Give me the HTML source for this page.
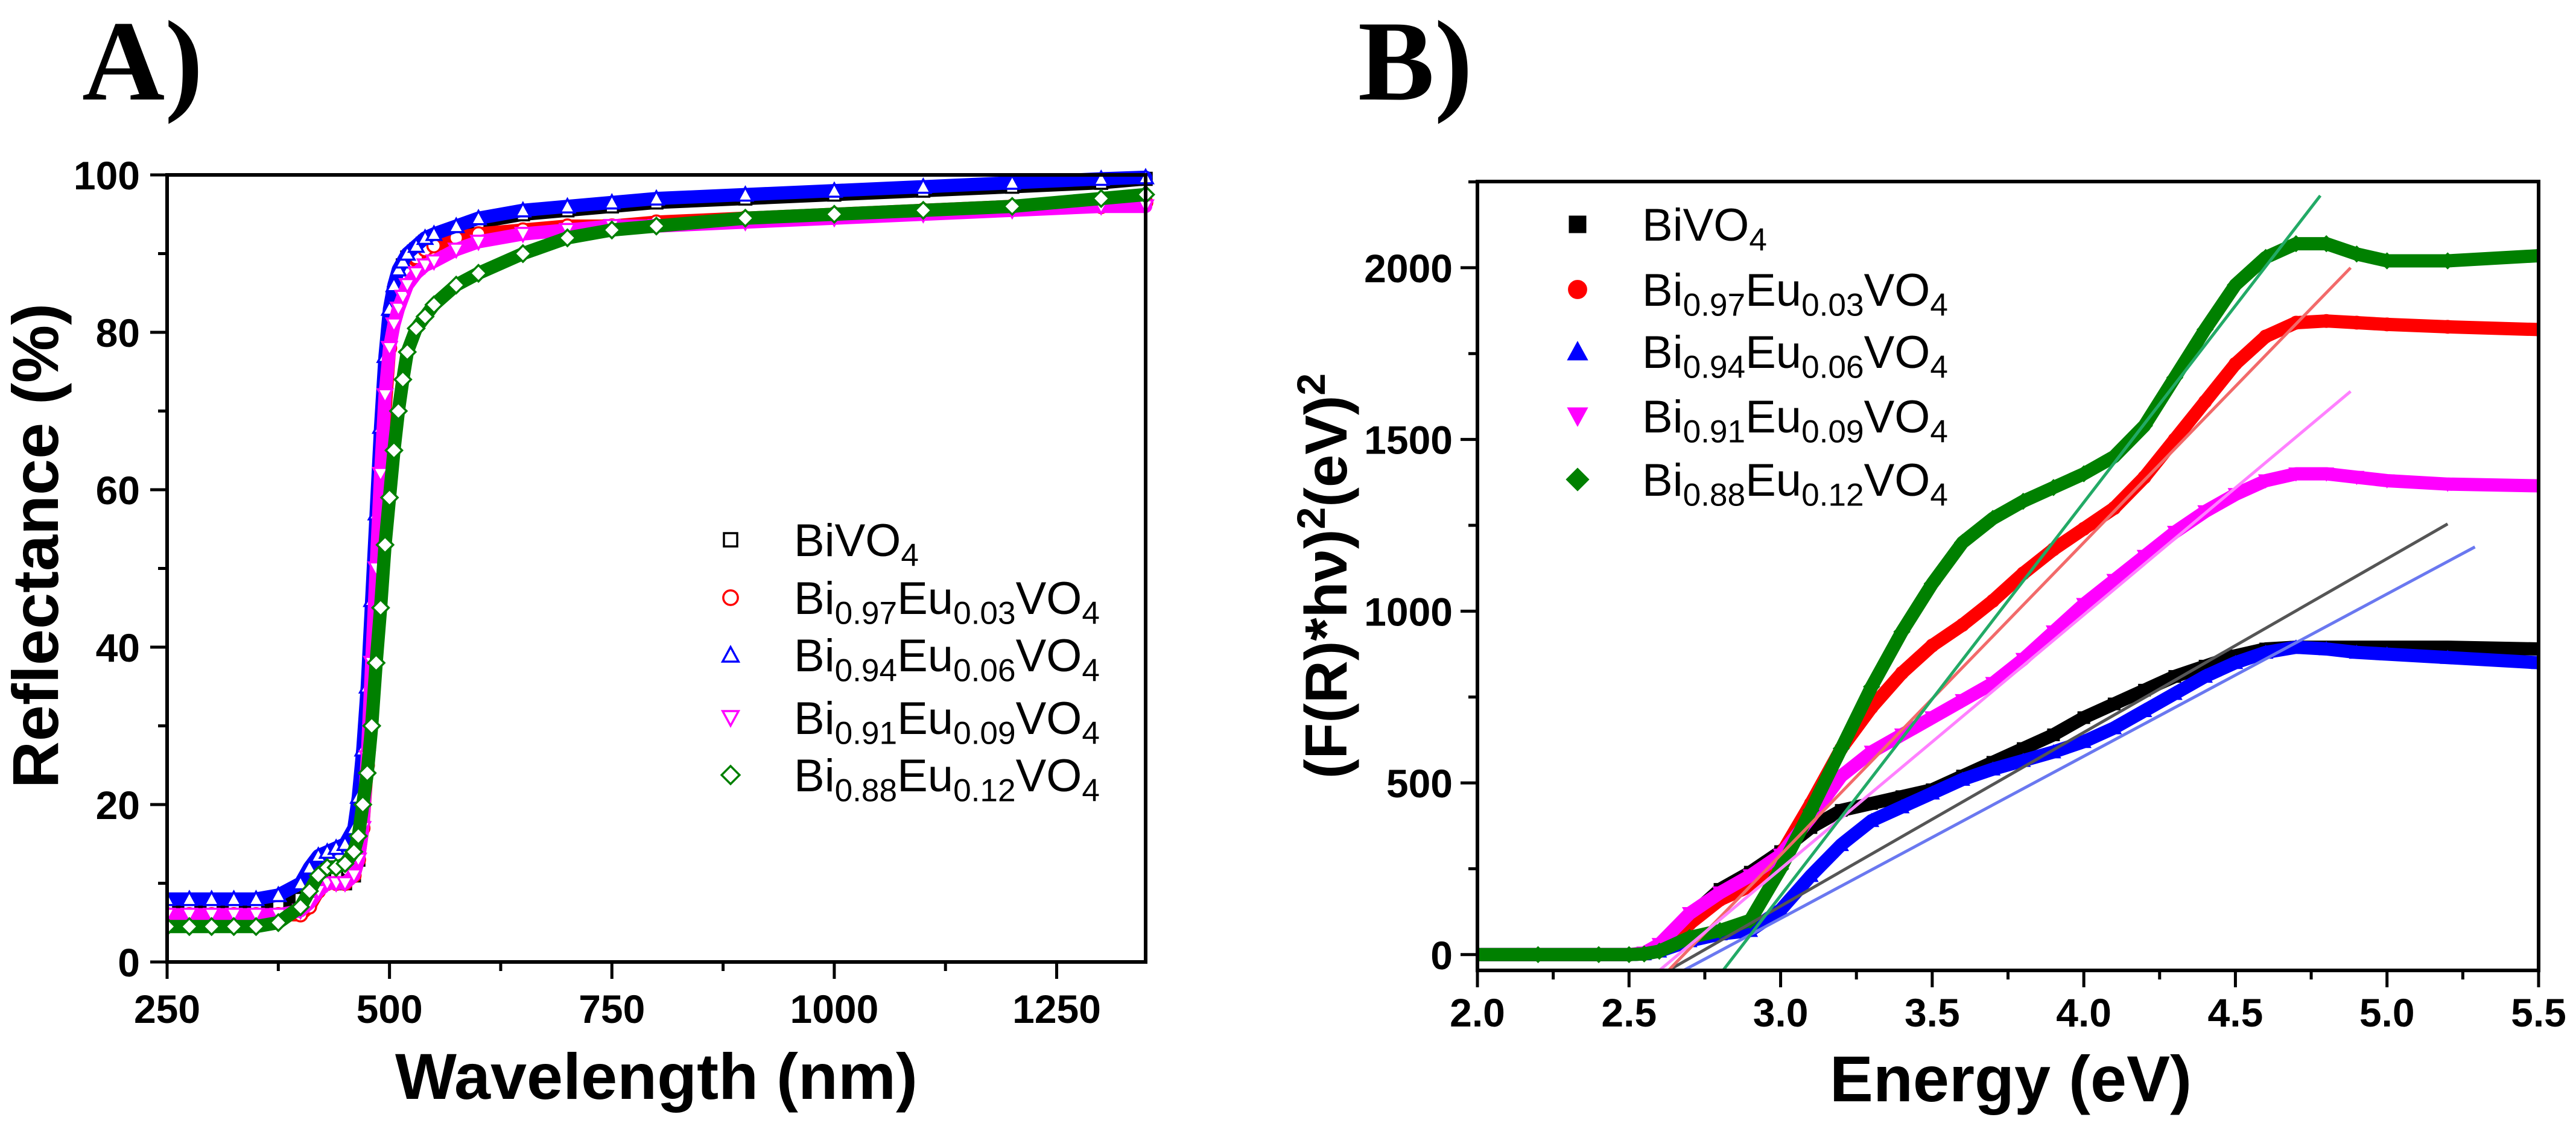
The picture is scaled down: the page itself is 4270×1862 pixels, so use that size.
<!DOCTYPE html>
<html><head><meta charset="utf-8"><style>
html,body{margin:0;padding:0;background:#fff;}
svg{display:block;}
text{font-family:"Liberation Sans",sans-serif;}
</style></head><body>
<svg id="fig" width="4270" height="1862" viewBox="0 0 4270 1862" xmlns="http://www.w3.org/2000/svg">
<text x="136" y="165" style="font-family:'Liberation Serif',serif;font-weight:bold;font-size:190px">A)</text>
<text x="2251" y="165" style="font-family:'Liberation Serif',serif;font-weight:bold;font-size:190px">B)</text>
<g id="pa"></g>
<g id="pb"></g>
</svg>
<script>
// ---- Panel A data ----
const wlA = [250,275,300,325,350,375,400,410,420,430,440,450,460,465,470,475,480,485,490,495,500,505,510,515,520,530,540,550,575,600,650,700,750,800,900,1000,1100,1200,1300,1350];
const reflBiVO4 = [7,7,7,7,7,7.5,8,9,11,12,11,10,11,13,18,28,40,52,64,74,81,85,87,88.5,89.5,90.5,91.5,92,93,94,95,95.5,96,96.5,97,97.5,98,98.5,99,99.5];
const refl003 = [6,6,6,6,6,6,6,7,9,10,10,10,11,13,17,25,36,48,60,70,78,82,85,87,88,89.5,90.5,91,92,92.5,93,93.5,93.5,94,94.5,95,95.5,96,96,96.5];
const refl006 = [8,8,8,8,8,8.5,10,12,13.5,14,14.5,15,17,21,27,35,46,57,68,77,83,86,88,89,90,91,92,92.5,93.5,94.5,95.5,96,96.5,97,97.5,98,98.5,99,99.5,99.7];
const refl009 = [6,6,6,6,6,6,6.5,7.5,9,10,10,10,11,13,17,26,38,50,62,72,78,81,83,84.5,86,87.5,88.5,89,90.5,91.5,92.5,93,93.5,93.5,94,94.5,95,95.5,96,96];
const refl012 = [4.5,4.5,4.5,4.5,4.5,5,7,9,11,12,12,12.5,14,16,20,24,30,38,45,53,59,65,70,74,77.5,80.5,82,83.5,86,87.5,90,92,93,93.5,94.5,95,95.5,96,97,97.5];
const xTicksA = [250,500,750,1000,1250];
const yTicksA = [0,20,40,60,80,100];
const namesA = ["BiVO4","Bi0.97Eu0.03VO4","Bi0.94Eu0.06VO4","Bi0.91Eu0.09VO4","Bi0.88Eu0.12VO4"];

// ---- Panel B data ----
const eB = [2.0,2.2,2.4,2.5,2.55,2.6,2.7,2.8,2.9,3.0,3.1,3.2,3.3,3.4,3.5,3.6,3.7,3.8,3.9,4.0,4.1,4.2,4.3,4.4,4.5,4.6,4.7,4.8,4.9,5.0,5.2,5.5];
const kmBiVO4 = [0,0,0,0,2,20,110,190,240,300,370,420,440,460,480,520,560,600,640,690,730,770,810,840,870,890,895,895,895,895,895,890];
const km003 = [0,0,0,0,2,10,90,160,200,290,440,600,720,820,900,960,1030,1110,1180,1240,1300,1390,1500,1610,1720,1800,1840,1845,1840,1835,1828,1820];
const km006 = [0,0,0,0,2,10,40,60,70,130,230,320,390,430,470,510,540,565,590,620,660,710,760,810,850,880,895,890,880,875,865,850];
const km009 = [0,0,0,0,5,30,120,180,230,290,400,520,590,640,690,740,790,860,940,1020,1090,1160,1230,1290,1340,1380,1400,1400,1390,1380,1370,1365];
const km012 = [0,0,0,0,2,10,50,70,100,250,420,600,780,940,1080,1200,1270,1320,1360,1400,1450,1540,1680,1820,1950,2030,2070,2070,2040,2020,2020,2035];
const fitStartE = [2.63,2.63,2.68,2.60,2.81];
const fitEndE = [5.20,4.88,5.29,4.88,4.78];
const fitEndV = [1254,2000,1187,1640,2210];
const xTicksB = [2.0,2.5,3.0,3.5,4.0,4.5,5.0,5.5];
const yTicksB = [0,500,1000,1500,2000];

const NS="http://www.w3.org/2000/svg";
function mk(tag,attrs,parent){const e=document.createElementNS(NS,tag);for(const k in attrs)e.setAttribute(k,attrs[k]);parent.appendChild(e);return e;}
const colors=["#000000","#ff0000","#0000ff","#ff00ff","#008000"];
const shapes=["square","circle","triangle","invtriangle","diamond"];
function marker(parent,shape,cx,cy,r,color,filled,sw){
  let e;
  const st={fill:filled?color:"#fff",stroke:color,"stroke-width":sw};
  if(shape==="square"){e=mk("rect",Object.assign({x:cx-r,y:cy-r,width:2*r,height:2*r},st),parent);}
  else if(shape==="circle"){e=mk("circle",Object.assign({cx:cx,cy:cy,r:r*1.1},st),parent);}
  else if(shape==="triangle"){e=mk("polygon",Object.assign({points:`${cx},${cy-r*1.2} ${cx+r*1.2},${cy+r} ${cx-r*1.2},${cy+r}`},st),parent);}
  else if(shape==="invtriangle"){e=mk("polygon",Object.assign({points:`${cx},${cy+r*1.2} ${cx+r*1.2},${cy-r} ${cx-r*1.2},${cy-r}`},st),parent);}
  else {e=mk("polygon",Object.assign({points:`${cx},${cy-r*1.35} ${cx+r*1.35},${cy} ${cx},${cy+r*1.35} ${cx-r*1.35},${cy}`},st),parent);}
  return e;
}
function legendText(parent,x,y,name,size){
  const t=mk("text",{x:x,y:y,"font-size":size},parent);
  const parts=name.match(/[A-Za-z]+|[0-9.]+/g);
  let sub=false;
  parts.forEach(p=>{
    const isNum=/^[0-9.]+$/.test(p);
    const ts=document.createElementNS(NS,"tspan");
    if(isNum&&!sub){ts.setAttribute("dy",size*0.22);ts.setAttribute("font-size",size*0.7);sub=true;}
    else if(!isNum&&sub){ts.setAttribute("dy",-size*0.22);sub=false;}
    ts.textContent=p;t.appendChild(ts);
  });
  return t;
}

// ===== Panel A =====
(function(){
  const g=document.getElementById("pa");
  const L=277,R=1899,T=290,B=1595,x0=250,x1=1350,y0=0,y1=100;
  const X=v=>L+(v-x0)/(x1-x0)*(R-L), Y=v=>B-(v-y0)/(y1-y0)*(B-T);
  const series=[reflBiVO4,refl003,refl006,refl009,refl012];
  const clip=mk("clipPath",{id:"clipA"},g);mk("rect",{x:L,y:T-20,width:R-L+20,height:B-T+20},clip);
  const dg=mk("g",{"clip-path":"url(#clipA)"},g);
  series.forEach((s,i)=>{
    const sg=mk("g",{},dg);
    
    
    mk("polyline",{points:s.map((v,j)=>X(wlA[j])+","+Y(v)).join(" "),fill:"none",stroke:colors[i],"stroke-width":22,"stroke-linejoin":"round","stroke-linecap":"round"},sg);
    s.forEach((v,j)=>{
      const m=marker(sg,shapes[i],X(wlA[j]),Y(v),10,colors[i],false,3.5);
      
      
    });
  });
  const fr=mk("rect",{x:L,y:T,width:R-L,height:B-T,fill:"none",stroke:"#000","stroke-width":6},g);
  
  
  for(let v=x0;v<=x1;v+=125){const major=xTicksA.includes(v);mk("line",{x1:X(v),x2:X(v),y1:B,y2:B+(major?28:15),stroke:"#000","stroke-width":5},g);}
  for(let v=0;v<=100;v+=10){const major=yTicksA.includes(v);mk("line",{x1:L,x2:L-(major?28:15),y1:Y(v),y2:Y(v),stroke:"#000","stroke-width":5},g);}
  xTicksA.forEach(v=>{const t=mk("text",{x:X(v),y:1696,"text-anchor":"middle","font-size":66,"font-weight":"bold"},g);t.textContent=v;
    
    });
  yTicksA.forEach(v=>{const t=mk("text",{x:232,y:Y(v)+24,"text-anchor":"end","font-size":66,"font-weight":"bold"},g);t.textContent=v;
    
    });
  const xt=mk("text",{x:1088,y:1822,"text-anchor":"middle","font-size":108,"font-weight":"bold"},g);xt.textContent="Wavelength (nm)";
  
  
  const yt=mk("text",{x:0,y:0,"text-anchor":"middle","font-size":108,"font-weight":"bold",transform:"translate(96,905) rotate(-90)"},g);yt.textContent="Reflectance (%)";
  
  
  const lg=mk("g",{},g);
  
  
  const rows=[895,991,1086,1190,1285];
  namesA.forEach((n,i)=>{
    const e=mk("g",{},lg);
    
    
    marker(e,shapes[i],1211,rows[i],11,colors[i],false,3.5);
    legendText(e,1316,rows[i]+27,n,76);
  });
})();

// ===== Panel B =====
(function(){
  const g=document.getElementById("pb");
  const L=2449,R=4208,T=301,B=1609,x0=2.0,x1=5.5,y0=-46,y1=2251;
  const X=v=>L+(v-x0)/(x1-x0)*(R-L), Y=v=>B-(v-y0)/(y1-y0)*(B-T);
  const series=[kmBiVO4,km003,km006,km009,km012];
  const fitColors=["#555555","#f26a6a","#6a78f0","#ff80ff","#22aa66"];
  const clip=mk("clipPath",{id:"clipB"},g);mk("rect",{x:L,y:T,width:R-L,height:B-T},clip);
  const dg=mk("g",{"clip-path":"url(#clipB)"},g);
  series.forEach((s,i)=>{
    const sg=mk("g",{},dg);
    
    
    mk("polyline",{points:s.map((v,j)=>X(eB[j])+","+Y(v)).join(" "),fill:"none",stroke:colors[i],"stroke-width":22,"stroke-linejoin":"round","stroke-linecap":"round"},sg);
    s.forEach((v,j)=>{
      const m=marker(sg,shapes[i],X(eB[j]),Y(v),10,colors[i],true,1);
      
      
    });
  });
  fitStartE.forEach((e0,i)=>{
    const l=mk("line",{x1:X(e0),y1:Y(-46),x2:X(fitEndE[i]),y2:Y(fitEndV[i]),stroke:fitColors[i],"stroke-width":5},dg);
    
    
  });
  const fr=mk("rect",{x:L,y:T,width:R-L,height:B-T,fill:"none",stroke:"#000","stroke-width":6},g);
  
  
  for(let k=0;k<=14;k++){const v=2+k*0.25;const major=k%2===0;mk("line",{x1:X(v),x2:X(v),y1:B,y2:B+(major?28:15),stroke:"#000","stroke-width":5},g);}
  for(let v=0;v<=2250;v+=250){const major=yTicksB.includes(v);mk("line",{x1:L,x2:L-(major?28:15),y1:Y(v),y2:Y(v),stroke:"#000","stroke-width":5},g);}
  xTicksB.forEach(v=>{const t=mk("text",{x:X(v),y:1702,"text-anchor":"middle","font-size":66,"font-weight":"bold"},g);t.textContent=v.toFixed(1);
    
    });
  yTicksB.forEach(v=>{const t=mk("text",{x:2408,y:Y(v)+24,"text-anchor":"end","font-size":66,"font-weight":"bold"},g);t.textContent=v;
    
    });
  const xt=mk("text",{x:3333,y:1826,"text-anchor":"middle","font-size":108,"font-weight":"bold"},g);xt.textContent="Energy (eV)";
  
  
  const yt=mk("text",{x:0,y:0,"text-anchor":"middle","font-size":98,"font-weight":"bold",transform:"translate(2232,955) rotate(-90)"},g);
  yt.innerHTML='(F(R)*h\u03BD)<tspan dy="-36" font-size="66">2</tspan><tspan dy="36">(eV)</tspan><tspan dy="-36" font-size="66">2</tspan>';
  
  
  const lg=mk("g",{},g);
  
  
  const rows=[372,480,583,690,795];
  namesA.forEach((n,i)=>{
    const e=mk("g",{},lg);
    
    
    marker(e,shapes[i],2615,rows[i],14,colors[i],true,1);
    legendText(e,2722,rows[i]+27,n,76);
  });
})();
</script>
</body></html>
